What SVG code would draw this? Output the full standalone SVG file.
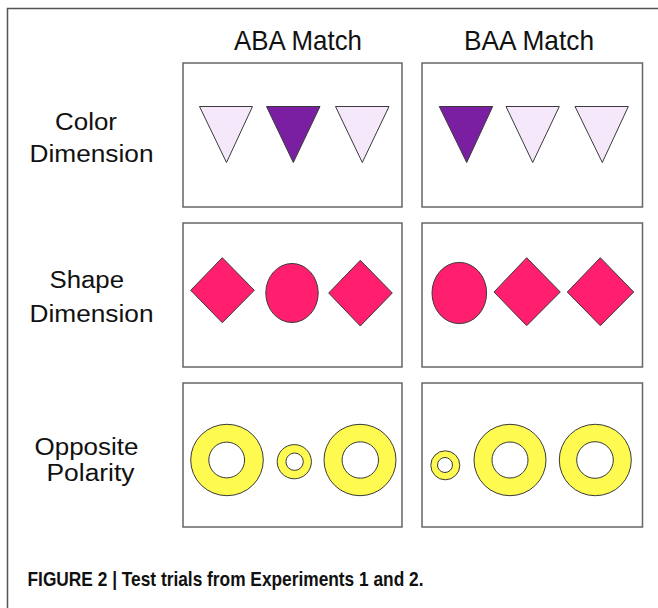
<svg xmlns="http://www.w3.org/2000/svg" width="658" height="608" viewBox="0 0 658 608">
  <style>
    .frame { fill: none; stroke: #555; stroke-width: 1.5; }
    .panel { fill: #fff; stroke: #666; stroke-width: 1.5; }
    .shape { stroke: #3a3a3a; stroke-width: 1; }
    .light { fill: #f6e8fb; }
    .dark { fill: #7b1fa2; }
    .pink { fill: #ff1f6e; }
    .ring { fill: #fffa50; }
    .hole { fill: #fff; }
    .head { font-family: "Liberation Sans", Arial, sans-serif; font-size: 28px; fill: #111; }
    .row { font-family: "Liberation Sans", Arial, sans-serif; font-size: 23.5px; fill: #111; }
    .cap { font-family: "Liberation Sans", Arial, sans-serif; font-size: 20.5px; font-weight: bold; fill: #111; }
  </style>

  <rect width="658" height="608" fill="#fff"/>
  <!-- page frame -->
  <path class="frame" d="M7.5 608 V8.5 H658"/>

  <!-- column headings -->
  <text class="head" x="234" y="50" textLength="128" lengthAdjust="spacingAndGlyphs">ABA Match</text>
  <text class="head" x="464" y="50" textLength="130" lengthAdjust="spacingAndGlyphs">BAA Match</text>

  <!-- row labels -->
  <g id="label-color">
    <text class="row" x="55" y="129.5" textLength="62" lengthAdjust="spacingAndGlyphs">Color</text>
    <text class="row" x="29.5" y="161.5" textLength="124" lengthAdjust="spacingAndGlyphs">Dimension</text>
  </g>
  <g id="label-shape">
    <text class="row" x="49.5" y="288" textLength="74.5" lengthAdjust="spacingAndGlyphs">Shape</text>
    <text class="row" x="29.5" y="321.5" textLength="124" lengthAdjust="spacingAndGlyphs">Dimension</text>
  </g>
  <g id="label-polarity">
    <text class="row" x="34.5" y="455" textLength="104" lengthAdjust="spacingAndGlyphs">Opposite</text>
    <text class="row" x="46.5" y="481" textLength="88" lengthAdjust="spacingAndGlyphs">Polarity</text>
  </g>

  <!-- color dimension, ABA -->
  <g id="color-aba">
    <rect class="panel" x="183" y="63" width="219" height="144"/>
    <polygon class="shape light" points="199.5,106.5 252.5,106.5 226.5,162.5"/>
    <polygon class="shape dark" points="266.5,106.5 320,106.5 293.3,162.5"/>
    <polygon class="shape light" points="335.5,106.5 389,106.5 362.3,162.5"/>
  </g>

  <!-- color dimension, BAA -->
  <g id="color-baa">
    <rect class="panel" x="422" y="63" width="220.5" height="144"/>
    <polygon class="shape dark" points="439.3,106.5 492.7,106.5 466.7,162.5"/>
    <polygon class="shape light" points="506,106.5 559.3,106.5 532.7,162.5"/>
    <polygon class="shape light" points="575,106.5 628.3,106.5 602.3,162.5"/>
  </g>

  <!-- shape dimension, ABA -->
  <g id="shape-aba">
    <rect class="panel" x="183" y="223" width="219" height="144"/>
    <polygon class="shape pink" points="222.3,257.7 254.3,290.3 222.3,322.7 190.7,290.3"/>
    <ellipse class="shape pink" cx="292" cy="293" rx="26.2" ry="29.5"/>
    <polygon class="shape pink" points="360.3,260.3 392.3,293 360.3,326 328.7,293"/>
  </g>

  <!-- shape dimension, BAA -->
  <g id="shape-baa">
    <rect class="panel" x="422" y="223" width="220.5" height="144"/>
    <ellipse class="shape pink" cx="459.3" cy="293" rx="27.3" ry="30.6"/>
    <polygon class="shape pink" points="526.7,257.7 560.3,292 526.7,325.7 494,292"/>
    <polygon class="shape pink" points="600.3,257.7 633.7,292 600.3,325.7 567.3,292"/>
  </g>

  <!-- opposite polarity, ABA -->
  <g id="polarity-aba">
    <rect class="panel" x="183" y="383" width="219" height="144"/>
    <ellipse class="shape ring" cx="227" cy="460" rx="36.3" ry="35.7"/>
    <circle class="shape hole" cx="226.7" cy="460" r="17.9"/>
    <circle class="shape ring" cx="294.3" cy="461.7" r="17.1"/>
    <circle class="shape hole" cx="294.6" cy="461.7" r="8.7"/>
    <ellipse class="shape ring" cx="360" cy="460" rx="36" ry="35.7"/>
    <circle class="shape hole" cx="360.3" cy="460" r="18.2"/>
  </g>

  <!-- opposite polarity, BAA -->
  <g id="polarity-baa">
    <rect class="panel" x="422" y="383" width="220.5" height="144"/>
    <circle class="shape ring" cx="445.3" cy="465.3" r="14.5"/>
    <circle class="shape hole" cx="445" cy="465" r="7.5"/>
    <ellipse class="shape ring" cx="510" cy="460" rx="36" ry="35.7"/>
    <circle class="shape hole" cx="510" cy="460" r="18"/>
    <ellipse class="shape ring" cx="595.3" cy="460" rx="36" ry="35.7"/>
    <circle class="shape hole" cx="595" cy="460" r="18.3"/>
  </g>

  <!-- caption -->
  <text class="cap" x="27.5" y="586" textLength="396" lengthAdjust="spacingAndGlyphs">FIGURE 2 | Test trials from Experiments 1 and 2.</text>
</svg>
